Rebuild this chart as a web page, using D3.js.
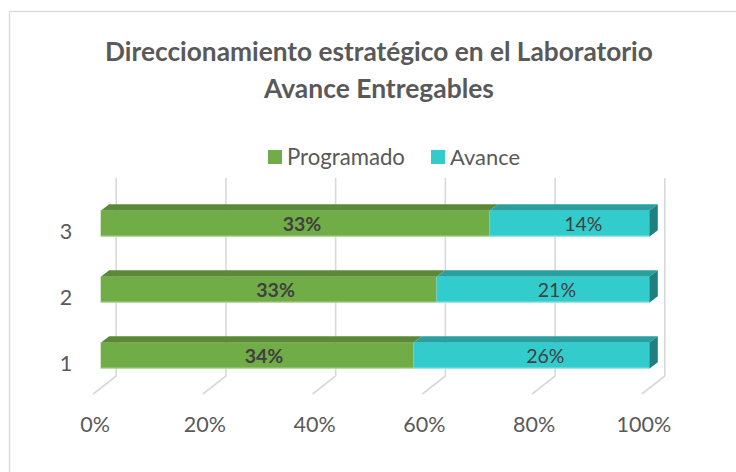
<!DOCTYPE html>
<html>
<head>
<meta charset="utf-8">
<script src="https://cdn.jsdelivr.net/npm/d3@7"></script>
<style>
  body { margin: 0; background: #fff; }
  text { font-family: Lato, "Open Sans", sans-serif; }
</style>
</head>
<body>
<svg id="chart"></svg>
<script>
/* ───────── data ───────── */
const categories  = ["3", "2", "1"];            // top to bottom
const seriesNames = ["Programado", "Avance"];
const programado  = { "3": 0.333, "2": 0.333, "1": 0.342 };
const avance      = { "3": 0.137, "2": 0.211, "1": 0.258 };
const tickValues  = [0, 0.2, 0.4, 0.6, 0.8, 1];
const titleLines  = ["Direccionamiento estratégico en el Laboratorio", "Avance Entregables"];

/* ───────── look ───────── */
const W = 736, H = 472;
const colors = {
  Programado: { front: "#70ad47", top: "#5a8a37", edge: "#c9e3b5" },
  Avance:     { front: "#33cccc", top: "#2a9f9f", side: "#1f8080", edge: "#b5ecec" }
};
const grid = "#d9d9d9", txt = "#595959", lbl = "#404040";
const depth = { dx: 8.5, dy: -6.5 };          // bar box depth
const wall  = { dx: 15.5, top: 178, bottom: 376 };
const floorFront = { dx: -7.5, y: 394 };

const svg = d3.select("#chart").attr("width", W).attr("height", H);

svg.append("rect")
  .attr("x", 9.5).attr("y", 11.5).attr("width", W + 20).attr("height", H + 20)
  .attr("fill", "#fff").attr("stroke", grid).attr("stroke-width", 1.3);

// shrink/grow font so text hits the width
function fitWidth(sel, target) {
  sel.each(function () {
    const fs = parseFloat(this.getAttribute("font-size"));
    const w = this.getComputedTextLength();
    if (w > 0) this.setAttribute("font-size", (fs * target / w).toFixed(2));
  });
}

/* ───────── title ───────── */
const title = svg.append("g").attr("fill", txt).attr("font-weight", 700).attr("text-anchor", "middle");
title.append("text").attr("x", 379).attr("y", 61).attr("font-size", 24).text(titleLines[0]).call(fitWidth, 548);
title.append("text").attr("x", 379).attr("y", 98).attr("font-size", 24).text(titleLines[1]).call(fitWidth, 230);

/* ───────── legend ───────── */
const legendX = { Programado: 268, Avance: 431 };
const legendW = { Programado: 118, Avance: 70 };
const lg = svg.append("g");
seriesNames.forEach(s => {
  lg.append("rect").attr("x", legendX[s]).attr("y", 150).attr("width", 14).attr("height", 14)
    .attr("fill", colors[s].front);
  lg.append("text").attr("x", legendX[s] + 19).attr("y", 165).attr("font-size", 21)
    .attr("fill", txt).text(s).call(fitWidth, legendW[s]);
});

/* ───────── scales ───────── */
const x = d3.scaleLinear().domain([0, 1]).range([100.7, 649.3]);
const y = d3.scaleBand().domain(categories).range([190.7, 388.7])
  .paddingInner(0.606).paddingOuter(0.303);

/* ───────── back wall + floor gridlines ───────── */
const gGrid = svg.append("g").attr("fill", "none").attr("stroke", grid).attr("stroke-width", 1.6);
gGrid.selectAll("path").data(tickValues).join("path")
  .attr("d", v => {
    const bx = x(v) + wall.dx;
    return `M${bx},${wall.top}L${bx},${wall.bottom}L${x(v) + floorFront.dx},${floorFront.y}`;
  });

/* ───────── axes ───────── */
const xAxis = svg.append("g")
  .attr("transform", `translate(-6,${floorFront.y + 23})`)
  .call(d3.axisBottom(x).tickValues(tickValues).tickSize(0).tickPadding(0).tickFormat(d3.format(".0%")));
xAxis.select(".domain").remove();
xAxis.selectAll("text").attr("font-size", 21.5).attr("fill", txt).attr("font-family", "Lato, sans-serif");

const yAxis = svg.append("g")
  .attr("transform", `translate(66,8)`)
  .call(d3.axisLeft(y).tickSize(0).tickPadding(0));
yAxis.select(".domain").remove();
yAxis.selectAll("text").attr("font-size", 21.5).attr("fill", txt).attr("font-family", "Lato, sans-serif")
  .attr("text-anchor", "middle").attr("x", 0);

/* ───────── bars (3D boxes) ───────── */
const rows = categories.map(c => {
  const tot = programado[c] + avance[c];
  const p = programado[c] / tot;
  return {
    cat: c,
    segs: [
      { s: "Programado", v: programado[c], x0: 0, x1: p },
      { s: "Avance",     v: avance[c],     x0: p, x1: 1 }
    ]
  };
});

const gBars = svg.append("g");
rows.forEach(r => {
  const y0 = y(r.cat), h = y.bandwidth();
  const g = gBars.append("g");
  r.segs.forEach(d => {
    const a = x(d.x0), b = x(d.x1);
    // top face
    g.append("path").attr("fill", colors[d.s].top)
      .attr("d", `M${a},${y0}L${a + depth.dx},${y0 + depth.dy}L${b + depth.dx},${y0 + depth.dy}L${b},${y0}Z`);
  });
  r.segs.forEach(d => {
    const a = x(d.x0), b = x(d.x1);
    g.append("rect").attr("x", a).attr("y", y0).attr("width", b - a).attr("height", h)
      .attr("fill", colors[d.s].front);
    g.append("line").attr("x1", a).attr("x2", b).attr("y1", y0 + h - 0.5).attr("y2", y0 + h - 0.5)
      .attr("stroke", colors[d.s].edge).attr("stroke-width", 1);
  });
  // right side face
  const e = x(1);
  g.append("path").attr("fill", colors.Avance.side)
    .attr("d", `M${e},${y0}L${e + depth.dx},${y0 + depth.dy}L${e + depth.dx},${y0 + h + depth.dy}L${e},${y0 + h}Z`);

  // value labels
  r.segs.forEach(d => {
    const cx = (x(d.x0) + x(d.x1)) / 2 + (d.s === "Programado" ? 7 : 14);
    g.append("text").attr("x", cx).attr("y", y0 + h / 2 + 7)
      .attr("text-anchor", "middle").attr("font-size", 19.5)
      .attr("font-weight", d.s === "Programado" ? 700 : 400)
      .attr("fill", lbl).text(d3.format(".0%")(d.v));
  });
});
</script>
</body>
</html>
